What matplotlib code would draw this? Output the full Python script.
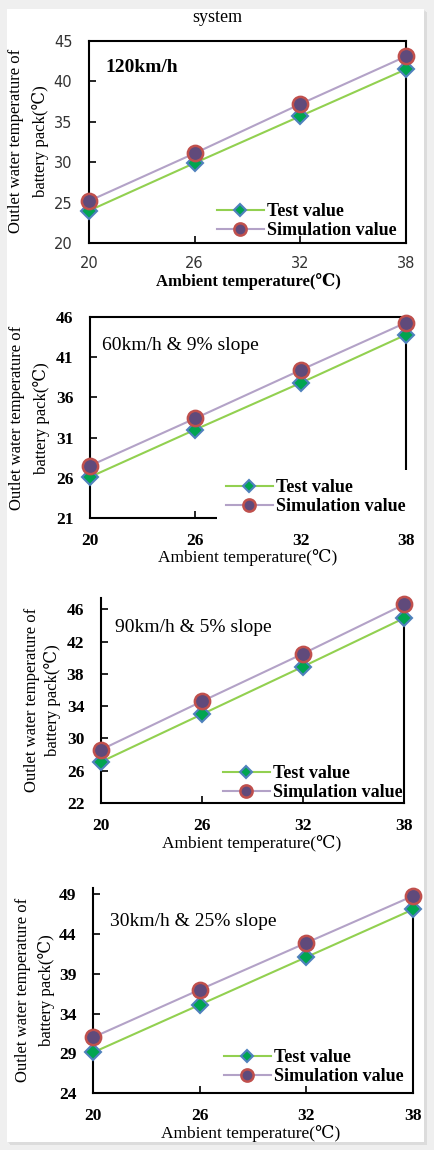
import matplotlib
matplotlib.use("Agg")
import matplotlib.pyplot as plt
from matplotlib.patches import Rectangle

# ---------------- data ----------------
ambient = [20, 26, 32, 38]

test_120 = [24.0, 29.9, 35.7, 41.5]
sim_120 = [25.2, 31.1, 37.2, 43.1]

test_60 = [26.1, 32.0, 37.8, 43.8]
sim_60 = [27.5, 33.4, 39.4, 45.3]

test_90 = [27.1, 33.0, 38.9, 44.9]
sim_90 = [28.6, 34.6, 40.5, 46.6]

test_30 = [29.1, 35.1, 41.1, 47.1]
sim_30 = [31.0, 37.0, 42.9, 48.8]

labels = ["120km/h", "60km/h & 9% slope", "90km/h & 5% slope", "30km/h & 25% slope"]
legend_labels = ["Test value", "Simulation value"]
xticks = [20, 26, 32, 38]
yticks_1 = [20, 25, 30, 35, 40, 45]
yticks_2 = [21, 26, 31, 36, 41, 46]
yticks_3 = [22, 26, 30, 34, 38, 42, 46]
yticks_4 = [24, 29, 34, 39, 44, 49]

# ---------------- style ----------------
W, H = 435, 1150
SERIF = ["Liberation Serif", "DejaVu Serif", "DejaVu Sans"]
TEST_LINE = "#92d050"
TEST_FACE = "#00a550"
TEST_EDGE = "#4f81bd"
SIM_LINE = "#b3a2c7"
SIM_FACE = "#604a7b"
SIM_EDGE = "#c0504d"

fig = plt.figure(figsize=(W / 100, H / 100), dpi=100)
fig.patch.set_facecolor("#efefef")
# card with soft shadow
for i, c in enumerate(["#e6e6e6", "#e0e0e0", "#dcdcdc"]):
    fig.patches.append(Rectangle(((7 + 1 + i) / W, 1 - (1142 + 1 + i) / H),
                                 417 / W, 1133 / H,
                                 transform=fig.transFigure, facecolor=c,
                                 edgecolor="none", zorder=-3 + i * 0.1))
fig.patches.append(Rectangle((7 / W, 1 - 1142 / H), 417 / W, 1133 / H,
                             transform=fig.transFigure, facecolor="white",
                             edgecolor="none", zorder=-2))

fig.text(217 / W, 1 - 17 / H, "system", family=SERIF, fontsize=13,
         ha="center", va="center")


def px(x, y):
    return x / W, 1 - y / H


panels = [
    dict(rect=(89, 406, 41, 243), ylim=(20, 45), yt=yticks_1, test=test_120, sim=sim_120,
         lab=labels[0], lab_xy=(105, 68), lab_bold=True, top=True, tickfont="sans",
         ylab_x=(16, 41), ylab_y=141, xlab_xy=(248, 282), xlab_bold=True,
         leg_xy=(217, 221), leg_frame=False),
    dict(rect=(90, 406, 317, 518), ylim=(21, 46), yt=yticks_2, test=test_60, sim=sim_60,
         lab=labels[1], lab_xy=(102, 345), lab_bold=False, top=True, tickfont="serif",
         ylab_x=(17, 42), ylab_y=418, xlab_xy=(248, 558), xlab_bold=False,
         leg_xy=(217, 497), leg_frame=True),
    dict(rect=(101, 404, 598, 803), ylim=(22, 47.4), yt=yticks_3, test=test_90, sim=sim_90,
         lab=labels[2], lab_xy=(115, 627), lab_bold=False, top=False, tickfont="serif",
         ylab_x=(32, 53), ylab_y=700, xlab_xy=(252, 844), xlab_bold=False,
         leg_xy=(223, 783), leg_frame=False),
    dict(rect=(93, 413, 888, 1093), ylim=(24, 49.8), yt=yticks_4, test=test_30, sim=sim_30,
         lab=labels[3], lab_xy=(110, 922), lab_bold=False, top=False, tickfont="serif",
         ylab_x=(23, 47), ylab_y=990, xlab_xy=(251, 1133), xlab_bold=False,
         leg_xy=(224, 1067), leg_frame=False),
]

for p in panels:
    l, r, t, b = p["rect"]
    ax = fig.add_axes([l / W, 1 - b / H, (r - l) / W, (b - t) / H])
    ax.set_facecolor("none")
    ln_t, = ax.plot(ambient, p["test"], color=TEST_LINE, lw=1.5, marker="D", ms=8,
                    mfc=TEST_FACE, mec=TEST_EDGE, mew=1.5, clip_on=False, zorder=4)
    ln_s, = ax.plot(ambient, p["sim"], color=SIM_LINE, lw=1.5, marker="o", ms=11,
                    mfc=SIM_FACE, mec=SIM_EDGE, mew=1.8, clip_on=False, zorder=4)
    ax.set_xlim(20, 38)
    ax.set_ylim(*p["ylim"])
    ax.set_xticks(xticks)
    ax.set_yticks(p["yt"])
    for s in ax.spines.values():
        s.set_linewidth(1.5)
        s.set_color("black")
    if not p["top"]:
        ax.spines["top"].set_visible(False)
        ax.spines["right"].set_bounds(p["ylim"][0], p["sim"][-1])
    ax.tick_params(direction="in", length=5, width=1.2, top=False, right=False)
    if p["tickfont"] == "sans":
        ax.tick_params(axis="x", pad=9, labelsize=10.5, labelcolor="#333333")
        ax.tick_params(axis="y", pad=12, labelsize=10.5, labelcolor="#333333")
        for tl in ax.get_xticklabels() + ax.get_yticklabels():
            tl.set_family("DejaVu Sans")
    else:
        ax.tick_params(axis="x", pad=11, labelsize=12.5)
        ax.tick_params(axis="y", pad=12, labelsize=12.5)
        for tl in ax.get_xticklabels() + ax.get_yticklabels():
            tl.set_family(SERIF)
            tl.set_fontweight("bold")

    lx, ly = px(*p["lab_xy"])
    fig.text(lx, ly, p["lab"], family=SERIF, fontsize=14,
             fontweight="bold" if p["lab_bold"] else "normal", ha="left", va="center")

    for txt, xx in zip(["Outlet water temperature of", "battery pack(\u2103)"], p["ylab_x"]):
        fx, fy = px(xx, p["ylab_y"])
        fig.text(fx, fy, txt, family=SERIF, fontsize=12, rotation=90,
                 ha="center", va="center")

    fx, fy = px(*p["xlab_xy"])
    fig.text(fx, fy, "Ambient temperature(\u2103)", family=SERIF,
             fontsize=12 if p["xlab_bold"] else 12.5,
             fontweight="bold" if p["xlab_bold"] else "normal", ha="center", va="center")

    lgx, lgy = px(*p["leg_xy"])
    leg = ax.legend([ln_t, ln_s], legend_labels, loc="center left",
                    bbox_to_anchor=(lgx, lgy), bbox_transform=fig.transFigure,
                    frameon=p["leg_frame"], facecolor="white", edgecolor="none",
                    framealpha=1, fancybox=False, numpoints=1, markerscale=0.8,
                    handlelength=2.6, handletextpad=0.15, labelspacing=0.1,
                    borderpad=0.5 if p["leg_frame"] else 0.0, borderaxespad=0,
                    prop=dict(family=SERIF, size=13, weight="bold"))
    if p["leg_frame"]:
        leg.get_frame().set_linewidth(0)
    leg.set_zorder(6)

fig.savefig("out.png", dpi=100, facecolor=fig.get_facecolor())
